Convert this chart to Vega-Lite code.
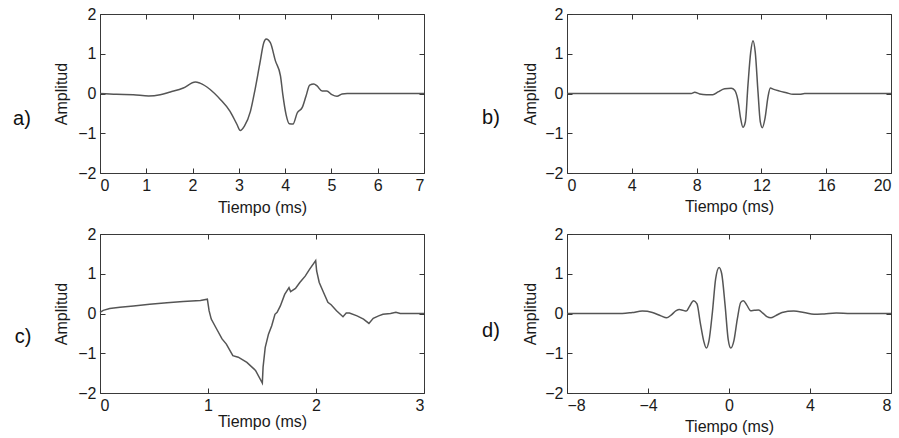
{
  "$schema": "https://vega.github.io/schema/vega-lite/v6.json",
  "background": "white",
  "padding": {"left": 12, "top": 5, "right": 5, "bottom": 5},
  "config": {
    "font": "Liberation Sans",
    "view": {"stroke": "#3a3a3a", "strokeWidth": 1},
    "axis": {
      "domain": false, "grid": false, "tickSize": -5, "tickColor": "#333", "tickWidth": 1,
      "labelFont": "Liberation Sans", "labelFontSize": 16, "labelColor": "#1a1a1a", "labelPadding": 9,
      "titleFont": "Liberation Sans", "titleFontSize": 16, "titleFontWeight": "normal", "titleColor": "#1a1a1a"
    },
    "title": {"font": "Liberation Sans", "fontSize": 20, "fontWeight": "normal", "color": "#111", "orient": "left", "angle": 0, "align": "right", "baseline": "middle", "anchor": "middle", "offset": 14}
  },
  "datasets": {
    "pa": [
      {"t": 0, "amp": 0}, {"t": 0.36, "amp": -0.02}, {"t": 0.72, "amp": -0.03}, {"t": 1.05, "amp": -0.06}, {"t": 1.3, "amp": -0.03},
      {"t": 1.52, "amp": 0.04}, {"t": 1.8, "amp": 0.14}, {"t": 2.06, "amp": 0.29}, {"t": 2.16, "amp": 0.26}, {"t": 2.38, "amp": 0.1},
      {"t": 2.6, "amp": -0.15}, {"t": 2.81, "amp": -0.45}, {"t": 2.96, "amp": -0.78}, {"t": 3.03, "amp": -0.93}, {"t": 3.12, "amp": -0.82},
      {"t": 3.25, "amp": -0.45}, {"t": 3.35, "amp": 0.1}, {"t": 3.45, "amp": 0.73}, {"t": 3.54, "amp": 1.28}, {"t": 3.59, "amp": 1.37},
      {"t": 3.68, "amp": 1.28}, {"t": 3.79, "amp": 0.82}, {"t": 3.9, "amp": 0.44}, {"t": 3.95, "amp": -0.03}, {"t": 4.02, "amp": -0.53},
      {"t": 4.09, "amp": -0.76}, {"t": 4.17, "amp": -0.77}, {"t": 4.26, "amp": -0.49}, {"t": 4.37, "amp": -0.35}, {"t": 4.45, "amp": -0.07},
      {"t": 4.53, "amp": 0.21}, {"t": 4.62, "amp": 0.24}, {"t": 4.69, "amp": 0.19}, {"t": 4.8, "amp": 0.06}, {"t": 4.9, "amp": 0.06},
      {"t": 5.01, "amp": -0.03}, {"t": 5.12, "amp": -0.07}, {"t": 5.23, "amp": -0.01}, {"t": 5.34, "amp": 0}, {"t": 7, "amp": 0}
    ],
    "pb": [
      {"t": 0, "amp": 0}, {"t": 7.67, "amp": 0}, {"t": 7.88, "amp": 0.03}, {"t": 8.19, "amp": -0.01}, {"t": 8.6, "amp": -0.03},
      {"t": 9.0, "amp": -0.03}, {"t": 9.32, "amp": 0.04}, {"t": 9.73, "amp": 0.12}, {"t": 10.14, "amp": 0.13}, {"t": 10.35, "amp": 0.08},
      {"t": 10.55, "amp": -0.17}, {"t": 10.72, "amp": -0.63}, {"t": 10.86, "amp": -0.85}, {"t": 11.01, "amp": -0.71}, {"t": 11.17, "amp": 0.21},
      {"t": 11.34, "amp": 1.04}, {"t": 11.48, "amp": 1.33}, {"t": 11.62, "amp": 1.04}, {"t": 11.79, "amp": 0.04}, {"t": 11.93, "amp": -0.71},
      {"t": 12.06, "amp": -0.86}, {"t": 12.22, "amp": -0.63}, {"t": 12.41, "amp": -0.08}, {"t": 12.55, "amp": 0.14}, {"t": 12.72, "amp": 0.11},
      {"t": 13.13, "amp": 0.06}, {"t": 13.54, "amp": 0.02}, {"t": 13.95, "amp": -0.02}, {"t": 14.36, "amp": -0.02}, {"t": 14.67, "amp": 0},
      {"t": 20, "amp": 0}
    ],
    "pc": [
      {"t": 0, "amp": 0.03}, {"t": 0.03, "amp": 0.08}, {"t": 0.09, "amp": 0.125}, {"t": 0.185, "amp": 0.16}, {"t": 0.31, "amp": 0.19},
      {"t": 0.46, "amp": 0.23}, {"t": 0.62, "amp": 0.27}, {"t": 0.77, "amp": 0.3}, {"t": 0.93, "amp": 0.33}, {"t": 0.994, "amp": 0.36},
      {"t": 1.01, "amp": 0.07}, {"t": 1.03, "amp": -0.14}, {"t": 1.08, "amp": -0.39}, {"t": 1.13, "amp": -0.64}, {"t": 1.17, "amp": -0.77},
      {"t": 1.23, "amp": -1.06}, {"t": 1.28, "amp": -1.1}, {"t": 1.36, "amp": -1.23}, {"t": 1.44, "amp": -1.43}, {"t": 1.503, "amp": -1.75},
      {"t": 1.51, "amp": -1.35}, {"t": 1.53, "amp": -0.85}, {"t": 1.56, "amp": -0.52}, {"t": 1.59, "amp": -0.31}, {"t": 1.62, "amp": -0.02},
      {"t": 1.64, "amp": 0.03}, {"t": 1.67, "amp": 0.19}, {"t": 1.71, "amp": 0.48}, {"t": 1.75, "amp": 0.65}, {"t": 1.765, "amp": 0.55},
      {"t": 1.81, "amp": 0.63}, {"t": 1.85, "amp": 0.78}, {"t": 1.9, "amp": 0.94}, {"t": 1.94, "amp": 1.11}, {"t": 1.997, "amp": 1.33},
      {"t": 2.006, "amp": 1.07}, {"t": 2.03, "amp": 0.78}, {"t": 2.07, "amp": 0.53}, {"t": 2.11, "amp": 0.28}, {"t": 2.14, "amp": 0.22},
      {"t": 2.19, "amp": 0.07}, {"t": 2.25, "amp": -0.08}, {"t": 2.28, "amp": 0.01}, {"t": 2.31, "amp": 0.01}, {"t": 2.38, "amp": -0.06},
      {"t": 2.44, "amp": -0.14}, {"t": 2.49, "amp": -0.25}, {"t": 2.53, "amp": -0.12}, {"t": 2.58, "amp": -0.06}, {"t": 2.62, "amp": -0.02},
      {"t": 2.69, "amp": 0}, {"t": 2.74, "amp": 0.03}, {"t": 2.78, "amp": 0}, {"t": 3, "amp": 0}
    ],
    "pd": [
      {"t": -8, "amp": 0}, {"t": -5.27, "amp": 0}, {"t": -4.78, "amp": 0.025}, {"t": -4.28, "amp": 0.06}, {"t": -3.78, "amp": 0.025},
      {"t": -3.36, "amp": -0.06}, {"t": -3.08, "amp": -0.11}, {"t": -2.86, "amp": -0.04}, {"t": -2.61, "amp": 0.07}, {"t": -2.45, "amp": 0.1},
      {"t": -2.28, "amp": 0.08}, {"t": -2.11, "amp": 0.06}, {"t": -1.95, "amp": 0.18}, {"t": -1.75, "amp": 0.32}, {"t": -1.58, "amp": 0.24},
      {"t": -1.42, "amp": -0.23}, {"t": -1.25, "amp": -0.69}, {"t": -1.12, "amp": -0.87}, {"t": -0.99, "amp": -0.69}, {"t": -0.82, "amp": 0.03},
      {"t": -0.66, "amp": 0.87}, {"t": -0.49, "amp": 1.16}, {"t": -0.36, "amp": 1.0}, {"t": -0.19, "amp": 0.19}, {"t": -0.04, "amp": -0.65},
      {"t": 0.09, "amp": -0.87}, {"t": 0.24, "amp": -0.69}, {"t": 0.41, "amp": -0.14}, {"t": 0.58, "amp": 0.28}, {"t": 0.71, "amp": 0.32},
      {"t": 0.88, "amp": 0.21}, {"t": 1.07, "amp": 0.07}, {"t": 1.24, "amp": 0.08}, {"t": 1.46, "amp": 0.09}, {"t": 1.67, "amp": 0.01},
      {"t": 1.87, "amp": -0.08}, {"t": 2.07, "amp": -0.11}, {"t": 2.29, "amp": -0.06}, {"t": 2.62, "amp": 0.025}, {"t": 3.2, "amp": 0.06},
      {"t": 3.7, "amp": 0.025}, {"t": 4.2, "amp": -0.02}, {"t": 4.7, "amp": -0.01}, {"t": 5.3, "amp": 0.01}, {"t": 6, "amp": 0}, {"t": 8, "amp": 0}
    ]
  },
  "bounds": "flush",
  "columns": 2,
  "spacing": {"row": 61, "column": 143},
  "concat": [
    {
      "title": {"text": "a)", "dy": 15},
      "width": 324, "height": 159,
      "data": {"name": "pa"},
      "resolve": {"axis": {"x": "independent", "y": "independent"}},
      "layer": [
        {
          "mark": {"type": "line", "strokeOpacity": 0},
          "encoding": {
            "x": {"field": "t", "type": "quantitative", "scale": {"domain": [0, 7], "nice": false, "zero": false}, "axis": {"orient": "top", "labels": false, "title": null, "values": [0, 1, 2, 3, 4, 5, 6, 7]}},
            "y": {"field": "amp", "type": "quantitative", "scale": {"domain": [-2, 2], "nice": false}, "axis": {"orient": "right", "labels": false, "title": null, "values": [-2, -1, 0, 1, 2]}}
          }
        },
        {
          "mark": {"type": "line", "color": "#555555", "strokeWidth": 1.5, "interpolate": "monotone"},
          "encoding": {
            "x": {"field": "t", "type": "quantitative", "axis": {"orient": "bottom", "title": "Tiempo (ms)", "values": [0, 1, 2, 3, 4, 5, 6, 7], "titlePadding": 6}},
            "y": {"field": "amp", "type": "quantitative", "axis": {"orient": "left", "title": "Amplitud", "values": [-2, -1, 0, 1, 2], "titlePadding": 8}}
          }
        }
      ]
    },
    {
      "title": {"text": "b)", "dy": 14},
      "width": 324, "height": 159,
      "data": {"name": "pb"},
      "resolve": {"axis": {"x": "independent", "y": "independent"}},
      "layer": [
        {
          "mark": {"type": "line", "strokeOpacity": 0},
          "encoding": {
            "x": {"field": "t", "type": "quantitative", "scale": {"domain": [0, 20], "nice": false, "zero": false}, "axis": {"orient": "top", "labels": false, "title": null, "values": [0, 4, 8, 12, 16, 20]}},
            "y": {"field": "amp", "type": "quantitative", "scale": {"domain": [-2, 2], "nice": false}, "axis": {"orient": "right", "labels": false, "title": null, "values": [-2, -1, 0, 1, 2]}}
          }
        },
        {
          "mark": {"type": "line", "color": "#555555", "strokeWidth": 1.5, "interpolate": "monotone"},
          "encoding": {
            "x": {"field": "t", "type": "quantitative", "axis": {"orient": "bottom", "title": "Tiempo (ms)", "values": [0, 4, 8, 12, 16, 20], "titlePadding": 5}},
            "y": {"field": "amp", "type": "quantitative", "axis": {"orient": "left", "title": "Amplitud", "values": [-2, -1, 0, 1, 2], "titlePadding": 6}}
          }
        }
      ]
    },
    {
      "title": {"text": "c)", "dy": 13},
      "width": 324, "height": 159,
      "data": {"name": "pc"},
      "resolve": {"axis": {"x": "independent", "y": "independent"}},
      "layer": [
        {
          "mark": {"type": "line", "strokeOpacity": 0},
          "encoding": {
            "x": {"field": "t", "type": "quantitative", "scale": {"domain": [0, 3], "nice": false, "zero": false}, "axis": {"orient": "top", "labels": false, "title": null, "values": [0, 1, 2, 3]}},
            "y": {"field": "amp", "type": "quantitative", "scale": {"domain": [-2, 2], "nice": false}, "axis": {"orient": "right", "labels": false, "title": null, "values": [-2, -1, 0, 1, 2]}}
          }
        },
        {
          "mark": {"type": "line", "color": "#555555", "strokeWidth": 1.5},
          "encoding": {
            "x": {"field": "t", "type": "quantitative", "axis": {"orient": "bottom", "title": "Tiempo (ms)", "values": [0, 1, 2, 3], "titlePadding": 0}},
            "y": {"field": "amp", "type": "quantitative", "axis": {"orient": "left", "title": "Amplitud", "values": [-2, -1, 0, 1, 2], "titlePadding": 8}}
          }
        }
      ]
    },
    {
      "title": {"text": "d)", "dy": 7},
      "width": 324, "height": 159,
      "data": {"name": "pd"},
      "resolve": {"axis": {"x": "independent", "y": "independent"}},
      "layer": [
        {
          "mark": {"type": "line", "strokeOpacity": 0},
          "encoding": {
            "x": {"field": "t", "type": "quantitative", "scale": {"domain": [-8, 8], "nice": false, "zero": false}, "axis": {"orient": "top", "labels": false, "title": null, "values": [-8, -4, 0, 4, 8]}},
            "y": {"field": "amp", "type": "quantitative", "scale": {"domain": [-2, 2], "nice": false}, "axis": {"orient": "right", "labels": false, "title": null, "values": [-2, -1, 0, 1, 2]}}
          }
        },
        {
          "mark": {"type": "line", "color": "#555555", "strokeWidth": 1.5, "interpolate": "monotone"},
          "encoding": {
            "x": {"field": "t", "type": "quantitative", "axis": {"orient": "bottom", "title": "Tiempo (ms)", "values": [-8, -4, 0, 4, 8], "titlePadding": 5}},
            "y": {"field": "amp", "type": "quantitative", "axis": {"orient": "left", "title": "Amplitud", "values": [-2, -1, 0, 1, 2], "titlePadding": 6}}
          }
        }
      ]
    }
  ]
}
